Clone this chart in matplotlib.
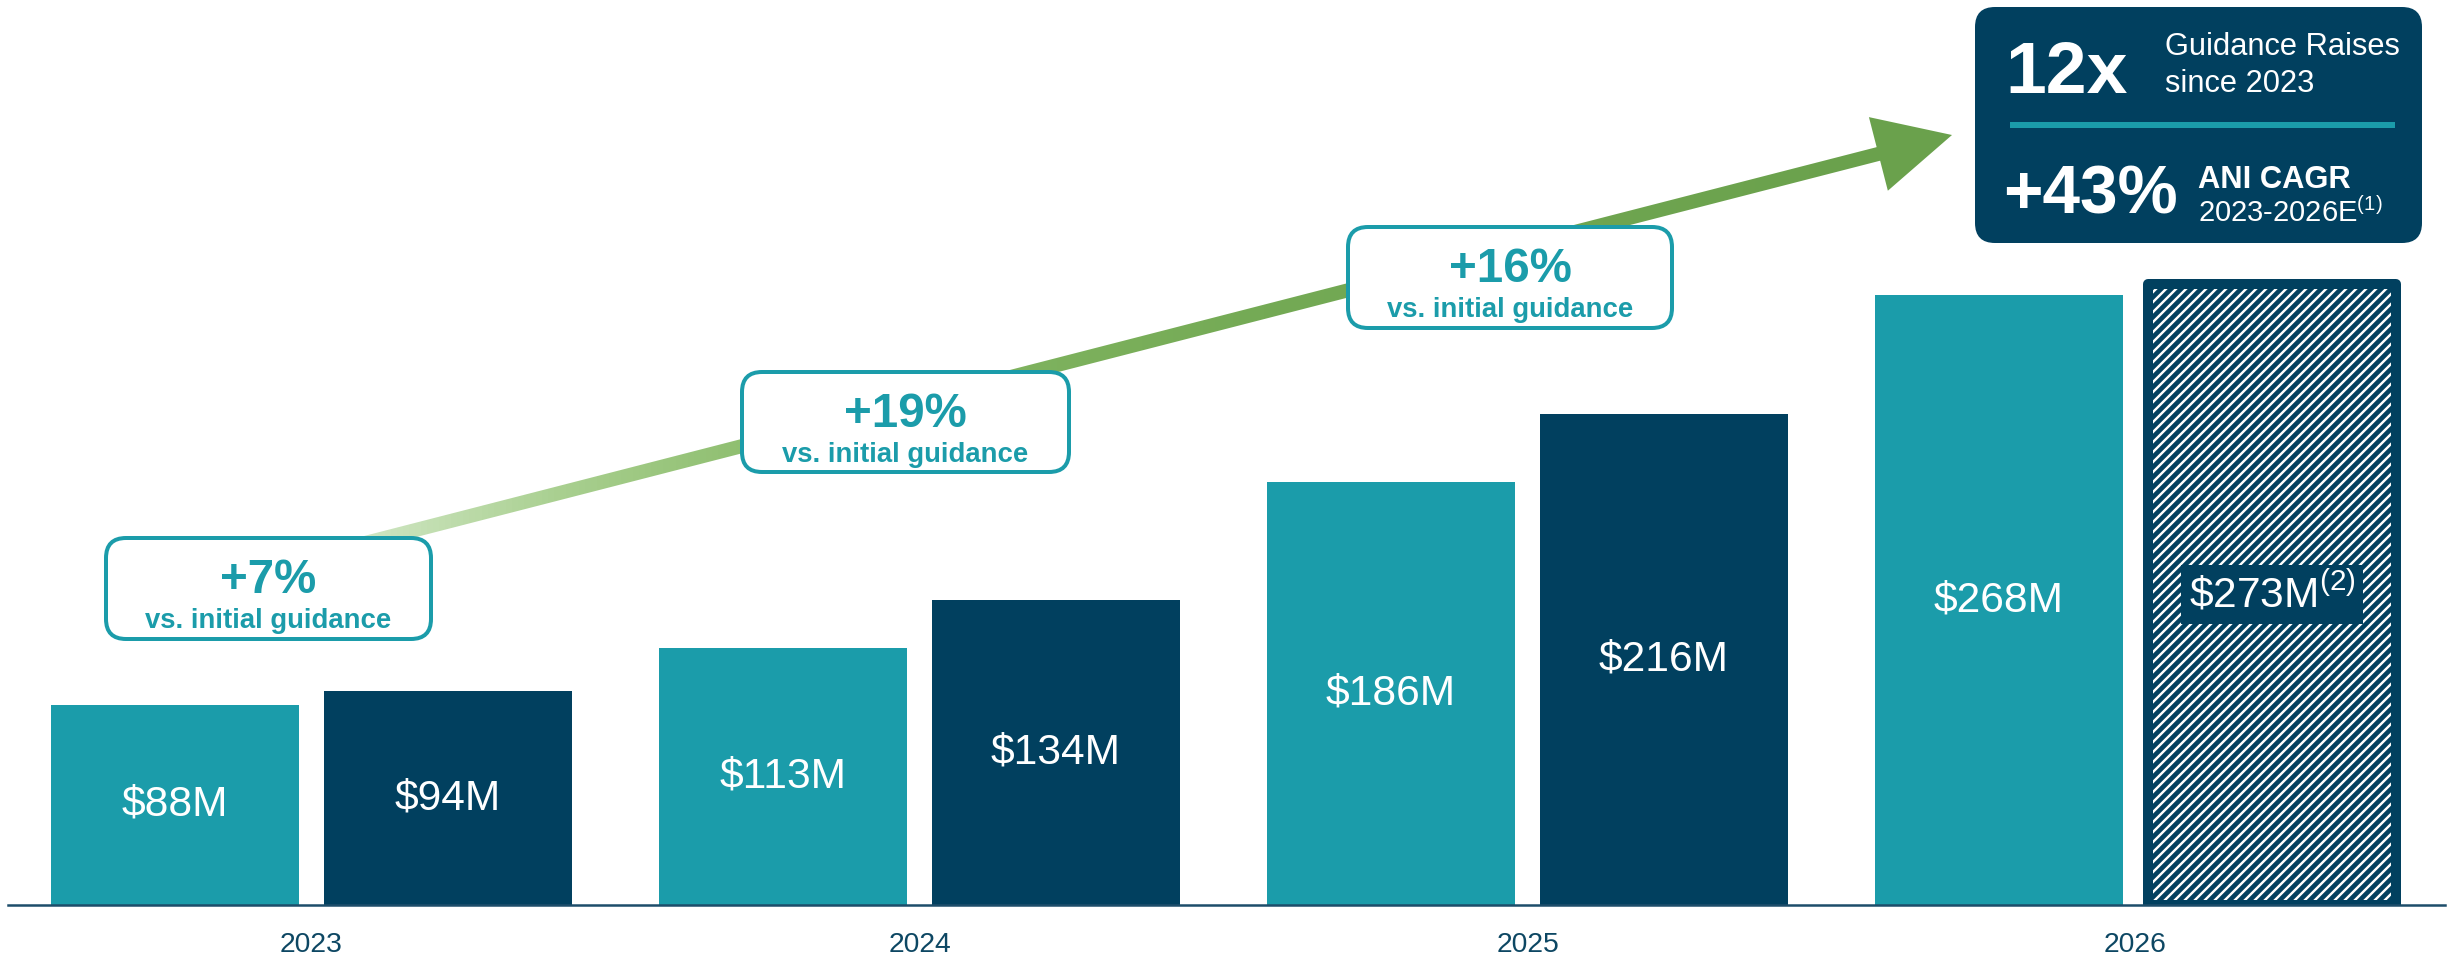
import numpy as np
import matplotlib
matplotlib.use('Agg')
import matplotlib.pyplot as plt
from matplotlib.patches import FancyBboxPatch, Polygon
from matplotlib.colors import LinearSegmentedColormap

plt.rcParams['font.family'] = ['Liberation Sans', 'DejaVu Sans']
plt.rcParams['mathtext.fontset'] = 'custom'
plt.rcParams['mathtext.rm'] = 'Liberation Sans'
plt.rcParams['mathtext.default'] = 'regular'
plt.rcParams['hatch.linewidth'] = 2.8

# data
years = ['2023', '2024', '2025', '2026']
initial_guidance = [88, 113, 186, 268]   # teal bars
final_ani = [94, 134, 216, 273]          # navy bars, last one is the estimate (hatched)
raise_labels = ['+7%', '+19%', '+16%']
raise_sub = 'vs. initial guidance'
kpi_raises = '12x'
kpi_raises_text = ['Guidance Raises', 'since 2023']
kpi_cagr = '+43%'
kpi_cagr_text = ['ANI CAGR', '2023-2026E$^{(1)}$']

TEAL = '#1b9caa'
NAVY = '#01405f'
GREEN = '#6aa14c'
plt.rcParams['hatch.color'] = NAVY

W, H, DPI = 2450, 957, 120
fig = plt.figure(figsize=(W / DPI, H / DPI), dpi=DPI)

# bars
ax = fig.add_axes([8 / W, (H - 905) / H, (2445 - 8) / W, 905 / H])
x = np.arange(len(years))
off, bw = 0.2245, 0.408
ax.bar(x - off, initial_guidance, bw, color=TEAL, zorder=2)
ax.bar(x[:-1] + off, final_ani[:-1], bw, color=NAVY, zorder=2)
est = ax.bar(x[-1:] + off, final_ani[-1:], bw, facecolor='white', edgecolor=NAVY,
             hatch='////', linewidth=6, zorder=2)
est[0].set_joinstyle('round')

for i in range(len(years)):
    ax.text(x[i] - off, initial_guidance[i] / 2, f'${initial_guidance[i]}M',
            ha='center', va='center', color='white', fontsize=25.5, zorder=3)
for i in range(len(years) - 1):
    ax.text(x[i] + off, final_ani[i] / 2, f'${final_ani[i]}M',
            ha='center', va='center', color='white', fontsize=25.5, zorder=3)
ax.text(x[-1] + off, final_ani[-1] / 2, r'\$' + f'{final_ani[-1]}M' + r'$^{(2)}$',
        ha='center', va='center', color='white', fontsize=25.5, zorder=3,
        bbox=dict(boxstyle='square,pad=0.18', fc=NAVY, ec='none'))

ax.set_xlim(-0.4992, 3.509)
ax.set_ylim(0, 905 / 2.275)
for s in ['top', 'left', 'right']:
    ax.spines[s].set_visible(False)
ax.spines['bottom'].set_color('#1d4d6a')
ax.spines['bottom'].set_linewidth(1.5)
ax.set_xticks(x, years)
ax.set_yticks([])
ax.tick_params(axis='x', length=0, pad=16, labelsize=17, labelcolor='#0d4763')
ax.patch.set_alpha(0)

# overlay in pixel coords for arrow and callouts
ov = fig.add_axes([0, 0, 1, 1])
ov.axis('off')

start = np.array([330.0, 552.0])
tip = np.array([1952.0, 135.0])
u = (tip - start) / np.linalg.norm(tip - start)
n = np.array([-u[1], u[0]])
base = tip - 76 * u
shaft_end = base + 3 * u
shaft = Polygon([start + 7 * n, shaft_end + 7 * n, shaft_end - 7 * n, start - 7 * n],
                closed=True, fc='none', ec='none')
ov.add_patch(shaft)
cmap = LinearSegmentedColormap.from_list('arrow', [(0, '#d6eacb'), (0.15, '#a8cf8f'),
                                                   (0.3, '#88ba67'), (0.6, '#74aa55'),
                                                   (1, GREEN)])
grad = np.linspace(0, 1, 256).reshape(1, -1)
im = ov.imshow(grad, cmap=cmap, extent=(start[0], shaft_end[0], 0, H), aspect='auto', zorder=1)
im.set_clip_path(shaft)
ov.add_patch(Polygon([base + 38 * n, tip, base - 38 * n], closed=True, fc=GREEN, ec='none', zorder=2))

# callout boxes
boxes = [(106, 538, 325, 101), (742, 372, 327, 100), (1348, 227, 324, 101)]
for (bx, by, bwid, bh), lab in zip(boxes, raise_labels):
    ov.add_patch(FancyBboxPatch((bx, by), bwid, bh, boxstyle='round,pad=0,rounding_size=20',
                                fc='white', ec=TEAL, lw=2.4, zorder=3))
    cx = bx + bwid / 2
    ov.text(cx, by + 55, lab, ha='center', va='baseline', fontsize=28.5,
            fontweight='bold', color=TEAL, zorder=4)
    ov.text(cx, by + 90, raise_sub, ha='center', va='baseline', fontsize=16.5,
            fontweight='bold', color=TEAL, zorder=4)

# kpi box
ov.add_patch(FancyBboxPatch((1975, 7), 447, 236, boxstyle='round,pad=0,rounding_size=20',
                            fc=NAVY, ec='none', zorder=3))
ov.text(2005, 93, kpi_raises, ha='left', va='baseline', fontsize=44, fontweight='bold',
        color='white', zorder=4)
ov.text(2165, 55, kpi_raises_text[0], ha='left', va='baseline', fontsize=18.5, color='white', zorder=4)
ov.text(2165, 92, kpi_raises_text[1], ha='left', va='baseline', fontsize=18.5, color='white', zorder=4)
ov.plot([2010, 2395], [125, 125], color=TEAL, lw=3.6, solid_capstyle='butt', zorder=4)
ov.text(2003, 213, kpi_cagr, ha='left', va='baseline', fontsize=40.5, fontweight='bold',
        color='white', zorder=4)
ov.text(2198, 188, kpi_cagr_text[0], ha='left', va='baseline', fontsize=18.5, fontweight='bold',
        color='white', zorder=4)
ov.text(2198, 222, kpi_cagr_text[1], ha='left', va='baseline', fontsize=17.5, color='white', zorder=4)

ov.set_xlim(0, W)
ov.set_ylim(H, 0)

fig.savefig('out.png', dpi=DPI)
